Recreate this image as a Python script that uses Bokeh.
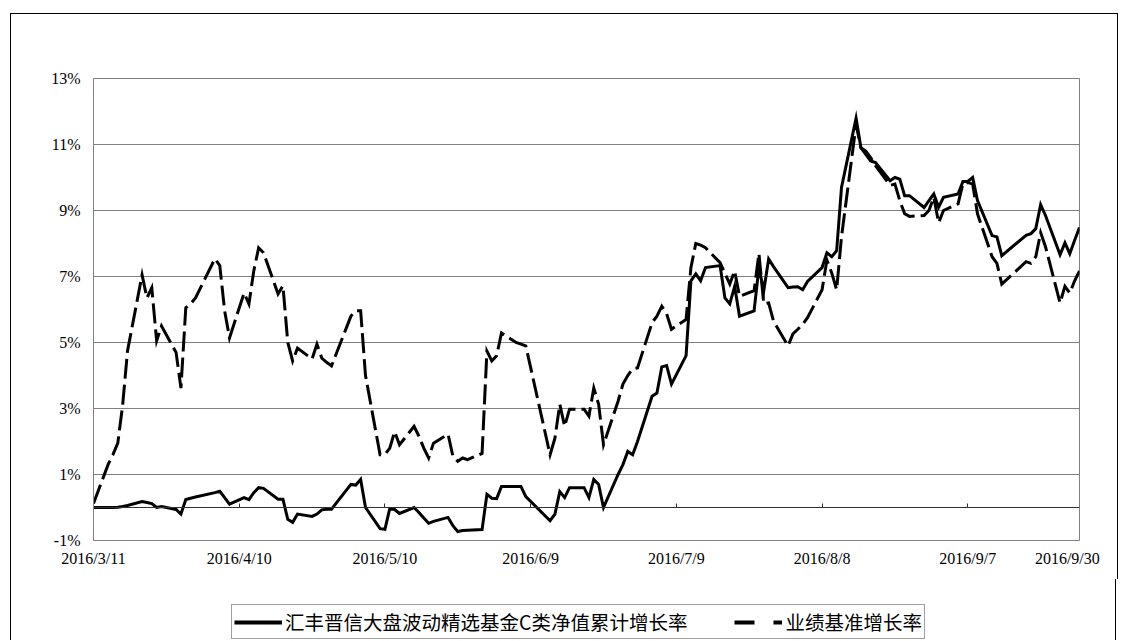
import pandas as pd
from bokeh.plotting import figure
from bokeh.layouts import column
from bokeh.models import (ColumnDataSource, FixedTicker, LinearAxis, Legend,
                          LegendItem, Range1d)
from bokeh.embed import file_html
from bokeh.resources import INLINE

# ---------------- data ----------------
dates = [
    "2016-03-11", "2016-03-14", "2016-03-15", "2016-03-16", "2016-03-17", "2016-03-18",
    "2016-03-21", "2016-03-22", "2016-03-23", "2016-03-24", "2016-03-25",
    "2016-03-28", "2016-03-29", "2016-03-30", "2016-03-31", "2016-04-01",
    "2016-04-05", "2016-04-06", "2016-04-07", "2016-04-08",
    "2016-04-11", "2016-04-12", "2016-04-13", "2016-04-14", "2016-04-15",
    "2016-04-18", "2016-04-19", "2016-04-20", "2016-04-21", "2016-04-22",
    "2016-04-25", "2016-04-26", "2016-04-27", "2016-04-28", "2016-04-29",
    "2016-05-03", "2016-05-04", "2016-05-05", "2016-05-06",
    "2016-05-09", "2016-05-10", "2016-05-11", "2016-05-12", "2016-05-13",
    "2016-05-16", "2016-05-17", "2016-05-18", "2016-05-19", "2016-05-20",
    "2016-05-23", "2016-05-24", "2016-05-25", "2016-05-26", "2016-05-27",
    "2016-05-30", "2016-05-31", "2016-06-01", "2016-06-02", "2016-06-03",
    "2016-06-06", "2016-06-07", "2016-06-08",
    "2016-06-13", "2016-06-14", "2016-06-15", "2016-06-16", "2016-06-17",
    "2016-06-20", "2016-06-21", "2016-06-22", "2016-06-23", "2016-06-24",
    "2016-06-27", "2016-06-28", "2016-06-29", "2016-06-30", "2016-07-01",
    "2016-07-04", "2016-07-05", "2016-07-06", "2016-07-07", "2016-07-08",
    "2016-07-11", "2016-07-12", "2016-07-13", "2016-07-14", "2016-07-15",
    "2016-07-18", "2016-07-19", "2016-07-20", "2016-07-21", "2016-07-22",
    "2016-07-25", "2016-07-26", "2016-07-27", "2016-07-28", "2016-07-29",
    "2016-08-01", "2016-08-02", "2016-08-03", "2016-08-04", "2016-08-05",
    "2016-08-08", "2016-08-09", "2016-08-10", "2016-08-11", "2016-08-12",
    "2016-08-15", "2016-08-16", "2016-08-17", "2016-08-18", "2016-08-19",
    "2016-08-22", "2016-08-23", "2016-08-24", "2016-08-25", "2016-08-26",
    "2016-08-29", "2016-08-30", "2016-08-31", "2016-09-01", "2016-09-02",
    "2016-09-05", "2016-09-06", "2016-09-07", "2016-09-08", "2016-09-09",
    "2016-09-12", "2016-09-13", "2016-09-14",
    "2016-09-19", "2016-09-20", "2016-09-21", "2016-09-22", "2016-09-23",
    "2016-09-26", "2016-09-27", "2016-09-28", "2016-09-29", "2016-09-30",
]

fund_growth = [
    0.00, 0.00, 0.00, 0.01, 0.03, 0.06,
    0.18, 0.15, 0.12, 0.00, 0.03,
    -0.06, -0.20, 0.24, 0.28, 0.32,
    0.45, 0.49, 0.30, 0.10,
    0.30, 0.24, 0.45, 0.60, 0.58,
    0.25, 0.25, -0.36, -0.45, -0.20,
    -0.27, -0.20, -0.07, -0.05, -0.05,
    0.70, 0.68, 0.85, 0.00,
    -0.64, -0.66, -0.03, -0.06, -0.18,
    0.00, -0.15, -0.32, -0.48, -0.42,
    -0.30, -0.55, -0.73, -0.70, -0.69,
    -0.67, 0.40, 0.28, 0.27, 0.64,
    0.64, 0.64, 0.33,
    -0.40, -0.20, 0.48, 0.30, 0.60,
    0.60, 0.30, 0.85, 0.70, 0.00,
    1.00, 1.30, 1.70, 1.60, 2.00,
    3.37, 3.47, 4.26, 4.30, 3.74,
    4.60, 6.87, 7.08, 6.87, 7.27,
    7.33, 6.35, 6.17, 6.70, 5.80,
    5.96, 7.27, 6.57, 7.53, 7.30,
    6.66, 6.68, 6.69, 6.60, 6.85,
    7.27, 7.72, 7.60, 7.78, 9.70,
    11.80, 10.90, 10.70, 10.50, 10.45,
    9.90, 10.00, 9.95, 9.45, 9.45,
    9.09, 9.30, 9.50, 9.10, 9.40,
    9.50, 9.88, 9.88, 10.00, 9.30,
    8.24, 8.20, 7.63,
    8.25, 8.30, 8.45, 9.18, 8.85,
    7.66, 8.02, 7.69, 8.10, 8.48,
]

bench_growth = [
    0.12, 1.30, 1.60, 1.95, 3.10, 4.74,
    7.05, 6.35, 6.66, 5.05, 5.50,
    4.70, 3.62, 6.05, 6.17, 6.35,
    7.54, 7.33, 5.96, 5.14,
    6.50, 6.17, 7.17, 7.87, 7.72,
    6.47, 6.72, 5.00, 4.44, 4.83,
    4.50, 4.95, 4.53, 4.40, 4.29,
    5.80, 5.96, 5.96, 4.00,
    1.60, 1.60, 1.80, 2.30, 1.90,
    2.46, 2.16, 1.80, 1.50, 1.95,
    2.22, 1.55, 1.40, 1.50, 1.45,
    1.64, 4.74, 4.44, 4.60, 5.29,
    5.00, 4.95, 4.90,
    1.60, 2.10, 3.13, 2.46, 2.98,
    2.98, 2.77, 3.62, 3.13, 1.90,
    3.22, 3.74, 4.00, 4.20, 4.23,
    5.60, 5.80, 6.10, 5.87, 5.40,
    5.70, 7.27, 8.00, 7.95, 7.87,
    7.42, 7.10, 6.77, 7.17, 6.40,
    6.57, 7.70, 6.17, 6.20, 5.65,
    4.90, 5.26, 5.40, 5.55, 5.75,
    6.60, 7.50, 7.10, 6.60, 8.20,
    11.60, 10.90, 10.80, 10.60, 10.36,
    9.76, 9.80, 9.30, 8.90, 8.82,
    8.85, 9.00, 9.40, 8.63, 9.00,
    9.20, 9.82, 9.85, 9.80, 8.90,
    7.60, 7.40, 6.77,
    7.45, 7.40, 7.60, 8.33, 7.90,
    6.20, 6.70, 6.50, 6.87, 7.17,
]

series_names = ["汇丰晋信大盘波动精选基金C类净值累计增长率", "业绩基准增长率"]

y_ticks = [-1, 1, 3, 5, 7, 9, 11, 13]
y_tick_labels = ["-1%", "1%", "3%", "5%", "7%", "9%", "11%", "13%"]

x_tick_dates = ["2016-03-11", "2016-04-10", "2016-05-10", "2016-06-09",
                "2016-07-09", "2016-08-08", "2016-09-07"]
x_tick_labels = ["2016/3/11", "2016/4/10", "2016/5/10", "2016/6/9",
                 "2016/7/9", "2016/8/8", "2016/9/7"]
end_label = "2016/9/30"
end_label_at = "2016-09-27 12:00"   # Excel pulls the last label inwards

# ---------------- main figure ----------------
def ms(s):
    return pd.Timestamp(s).value / 1e6

src = ColumnDataSource(dict(date=pd.to_datetime(dates), fund=fund_growth, bench=bench_growth))

p = figure(
    x_axis_type="datetime",
    frame_width=984, frame_height=461,
    min_border_left=82, min_border_right=40, min_border_top=64, min_border_bottom=40,
    x_range=Range1d(ms("2016-03-11"), ms("2016-09-30")),
    y_range=Range1d(-1, 13),
    output_backend="svg", toolbar_location=None,
    background_fill_color="white", border_fill_color="white",
)
p.margin = (13, 0, 0, 10)
p.styles = {"border-left": "1px solid #000", "border-top": "1px solid #000",
            "border-right": "1px solid #000"}

p.outline_line_color = "#808080"
p.outline_line_width = 1
p.xgrid.visible = False
p.ygrid.ticker = FixedTicker(ticks=y_ticks)
p.ygrid.grid_line_color = "#808080"
p.ygrid.grid_line_width = 1

serif = "Liberation Serif"

# y axis
ya = p.yaxis[0]
ya.ticker = FixedTicker(ticks=y_ticks)
ya.major_label_overrides = {t: l for t, l in zip(y_ticks, y_tick_labels)}
ya.major_tick_in = 0
ya.major_tick_out = 0
ya.minor_tick_line_color = None
ya.axis_line_color = "#808080"
ya.major_label_standoff = 13
ya.major_label_text_font = serif
ya.major_label_text_font_size = "16px"
ya.major_label_text_color = "black"

# bottom label axis (labels only)
label_ticks = [ms(d) for d in x_tick_dates] + [ms(end_label_at)]
label_texts = x_tick_labels + [end_label]
xa = p.xaxis[0]
xa.ticker = FixedTicker(ticks=label_ticks)
xa.major_label_overrides = {t: l for t, l in zip(label_ticks, label_texts)}
xa.axis_line_color = None
xa.major_tick_line_color = None
xa.minor_tick_line_color = None
xa.major_label_standoff = 3
xa.major_label_text_font = serif
xa.major_label_text_font_size = "16px"
xa.major_label_text_color = "black"

# category axis crossing at 0% with inside tick marks
tick_ms = [ms(d) for d in x_tick_dates]
zero_axis = LinearAxis(fixed_location=0, ticker=FixedTicker(ticks=tick_ms))
zero_axis.major_label_overrides = {t: "" for t in tick_ms}
zero_axis.major_label_standoff = 0
zero_axis.axis_line_color = "#303030"
zero_axis.axis_line_width = 1
zero_axis.major_tick_line_color = "#303030"
zero_axis.major_tick_in = 4
zero_axis.major_tick_out = 0
zero_axis.minor_tick_line_color = None
p.add_layout(zero_axis, "below")

# lines
p.line("date", "fund", source=src, line_color="black", line_width=3, line_join="miter")
p.line("date", "bench", source=src, line_color="black", line_width=3,
       line_dash="20 6", line_join="miter")

# ---------------- legend strip (bottom of the chart box) ----------------
pl = figure(
    width=1106, height=61, min_border=0,
    x_range=Range1d(0, 1), y_range=Range1d(0, 1),
    x_axis_location=None, y_axis_location=None,
    output_backend="svg", toolbar_location=None,
    background_fill_color="white", border_fill_color="white",
)
pl.margin = (0, 0, 0, 10)
pl.styles = {"border-left": "1px solid #000", "border-right": "1px solid #000"}
pl.outline_line_color = None
pl.grid.visible = False

# legend swatches (same series, drawn outside this strip's ranges)
leg_fund = pl.line("date", "fund", source=src, line_color="black", line_width=4)
leg_bench = pl.line("date", "bench", source=src, line_color="black", line_width=4,
                    line_dash="20 19")

legend = Legend(
    items=[LegendItem(label=series_names[0], renderers=[leg_fund]),
           LegendItem(label=series_names[1], renderers=[leg_bench])],
    location=(138, 1), orientation="horizontal",
    label_text_font="Noto Sans CJK SC", label_text_font_size="19.5px",
    label_text_color="black",
    glyph_width=48, glyph_height=20, label_standoff=3, spacing=47, padding=2,
    border_line_color="#404040", border_line_width=1,
    background_fill_color="white", background_fill_alpha=1.0,
)
pl.add_layout(legend, "center")

page = column(p, pl, spacing=0)
open("out.html", "w").write(file_html(page, INLINE))
